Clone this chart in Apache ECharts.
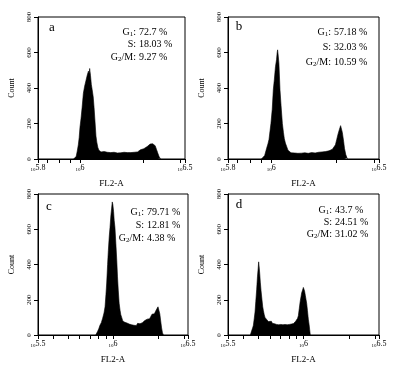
<!DOCTYPE html>
<html>
<head>
<meta charset="utf-8">
<script src="https://cdn.jsdelivr.net/npm/echarts@6/dist/echarts.min.js"></script>
<style>
  html, body { margin: 0; padding: 0; background: #fff; }
  #chart { width: 397px; height: 367px; }
</style>
</head>
<body>
<div id="chart"></div>
<script>
// histogram data: [log10(FL2-A), count]
const histA = [
  [5.970, 0], [5.976, 5], [5.982, 15], [5.987, 45], [5.992, 80], [5.996, 120], [6.000, 180],
  [6.005, 230], [6.010, 290], [6.016, 370], [6.022, 410], [6.028, 440], [6.034, 470], [6.040, 495],
  [6.044, 480], [6.046, 510], [6.050, 470], [6.054, 420], [6.058, 390], [6.063, 350], [6.067, 290],
  [6.071, 220], [6.076, 130], [6.080, 95], [6.085, 65], [6.090, 50], [6.095, 45], [6.100, 40],
  [6.108, 36], [6.115, 42], [6.122, 33], [6.130, 38], [6.138, 30], [6.146, 36], [6.154, 32],
  [6.162, 38], [6.170, 30], [6.178, 34], [6.186, 28], [6.194, 35], [6.202, 32], [6.210, 38],
  [6.218, 33], [6.226, 36], [6.234, 30], [6.242, 36], [6.250, 32], [6.258, 38], [6.266, 35],
  [6.274, 40], [6.280, 45], [6.288, 52], [6.296, 48], [6.304, 58], [6.312, 62], [6.320, 70],
  [6.328, 78], [6.334, 84], [6.340, 92], [6.346, 86], [6.352, 90], [6.358, 75], [6.364, 55],
  [6.370, 35], [6.376, 15], [6.382, 3], [6.386, 0]
];
const histB = [
  [5.955, 0], [5.962, 8], [5.970, 20], [5.979, 60], [5.985, 85], [5.990, 110], [5.995, 160],
  [5.999, 200], [6.005, 280], [6.010, 390], [6.015, 450], [6.020, 520], [6.025, 560], [6.028, 600],
  [6.030, 615], [6.033, 580], [6.036, 540], [6.041, 390], [6.046, 300], [6.052, 200], [6.057, 150],
  [6.061, 115], [6.066, 90], [6.072, 70], [6.078, 50], [6.085, 40], [6.092, 35], [6.100, 30],
  [6.108, 34], [6.116, 28], [6.124, 32], [6.132, 27], [6.140, 33], [6.148, 30], [6.156, 35],
  [6.164, 28], [6.172, 32], [6.180, 30], [6.188, 36], [6.196, 31], [6.204, 34], [6.212, 30],
  [6.220, 38], [6.228, 33], [6.236, 40], [6.244, 36], [6.252, 42], [6.260, 40], [6.268, 46],
  [6.276, 48], [6.284, 55], [6.292, 62], [6.298, 80], [6.304, 110], [6.310, 140], [6.316, 165],
  [6.322, 188], [6.326, 180], [6.330, 150], [6.336, 100], [6.340, 60], [6.346, 25], [6.352, 5],
  [6.356, 0]
];
const histC = [
  [5.885, 0], [5.891, 8], [5.897, 20], [5.905, 35], [5.913, 55], [5.922, 70], [5.931, 95],
  [5.940, 125], [5.947, 160], [5.953, 230], [5.958, 295], [5.964, 400], [5.969, 480], [5.975, 560],
  [5.980, 610], [5.986, 680], [5.991, 720], [5.995, 755], [5.999, 740], [6.004, 700], [6.008, 650],
  [6.013, 610], [6.019, 520], [6.025, 425], [6.030, 330], [6.035, 255], [6.041, 180], [6.047, 140],
  [6.052, 115], [6.058, 100], [6.065, 80], [6.072, 88], [6.079, 72], [6.086, 78], [6.093, 68],
  [6.100, 74], [6.108, 62], [6.116, 70], [6.124, 58], [6.132, 64], [6.140, 55], [6.148, 62],
  [6.156, 54], [6.164, 66], [6.172, 58], [6.180, 64], [6.188, 60], [6.196, 70], [6.204, 75],
  [6.212, 82], [6.220, 78], [6.228, 90], [6.236, 96], [6.244, 92], [6.252, 105], [6.260, 118],
  [6.268, 125], [6.276, 120], [6.284, 135], [6.292, 148], [6.300, 160], [6.306, 150], [6.312, 120],
  [6.318, 80], [6.324, 40], [6.330, 12], [6.336, 0]
];
const histD = [
  [5.648, 0], [5.652, 10], [5.657, 25], [5.663, 40], [5.668, 55], [5.674, 95], [5.679, 130],
  [5.684, 190], [5.690, 260], [5.695, 330], [5.700, 380], [5.703, 415], [5.706, 390], [5.710, 350],
  [5.714, 300], [5.719, 250], [5.725, 200], [5.730, 160], [5.734, 140], [5.740, 115], [5.745, 100],
  [5.750, 95], [5.756, 88], [5.762, 80], [5.767, 76], [5.774, 82], [5.780, 70], [5.787, 78],
  [5.794, 66], [5.801, 72], [5.808, 64], [5.815, 70], [5.822, 60], [5.829, 66], [5.836, 58],
  [5.843, 64], [5.850, 60], [5.857, 66], [5.864, 58], [5.871, 64], [5.878, 60], [5.885, 66],
  [5.892, 58], [5.899, 64], [5.906, 60], [5.913, 66], [5.920, 62], [5.927, 70], [5.934, 65],
  [5.941, 72], [5.948, 78], [5.955, 85], [5.961, 95], [5.966, 110], [5.972, 150], [5.978, 190],
  [5.984, 220], [5.988, 240], [5.994, 255], [5.999, 270], [6.003, 265], [6.007, 250], [6.012, 225],
  [6.017, 200], [6.021, 180], [6.026, 140], [6.032, 90], [6.037, 60], [6.041, 30], [6.045, 0]
];

const panelNames = ['a', 'b', 'c', 'd'];
const statsA = ['72.7 %', '18.03 %', '9.27 %'];
const statsB = ['57.18 %', '32.03 %', '10.59 %'];
const statsC = ['79.71 %', '12.81 %', '4.38 %'];
const statsD = ['43.7 %', '24.51 %', '31.02 %'];

// axis ticks (FL2-A values, log scale)
const xRangeTop = [5.8, 6.5];
const xRangeBottom = [5.5, 6.5];
const labelExpTop = [5.8, 6, 6.5];
const labelExpBottom = [5.5, 6, 6.5];
const minorTicks = [4e5, 5e5, 6e5, 7e5, 8e5, 9e5, 1e6, 2e6, 3e6];
const yTicks = [0, 200, 400, 600, 800];

const serif = '"Liberation Serif", "Times New Roman", serif';

const grids = [
  { left: 38, top: 17, width: 147, height: 142 },
  { left: 228, top: 17, width: 151, height: 142 },
  { left: 38, top: 194, width: 150, height: 141 },
  { left: 228, top: 194, width: 151, height: 141 }
];
const hists = [histA, histB, histC, histD];
const stats = [statsA, statsB, statsC, statsD];

const chart = echarts.init(document.getElementById('chart'));

function xAxisFor(i) {
  const range = i < 2 ? xRangeTop : xRangeBottom;
  const labels = i < 2 ? labelExpTop : labelExpBottom;
  const ticks = minorTicks.map(v => Math.log10(v))
    .filter(v => v >= range[0] && v <= range[1])
    .concat(labels);
  return {
    gridIndex: i,
    type: 'value',
    min: range[0],
    max: range[1],
    name: 'FL2-A',
    nameLocation: 'middle',
    nameGap: 20,
    nameTextStyle: { fontFamily: serif, fontSize: 9, color: '#000' },
    axisLine: { show: true, lineStyle: { color: '#000', width: 1 } },
    axisTick: { show: true, length: 4, customValues: ticks, lineStyle: { color: '#000' } },
    axisLabel: {
      customValues: labels,
      margin: 5,
      formatter: v => '{b|10}{e|' + v + '}',
      rich: {
        b: { fontFamily: serif, fontSize: 5, color: '#000', verticalAlign: 'bottom', lineHeight: 8 },
        e: { fontFamily: serif, fontSize: 8, color: '#000', verticalAlign: 'top', lineHeight: 8 }
      }
    },
    splitLine: { show: false }
  };
}

function yAxisFor(i) {
  return {
    gridIndex: i,
    type: 'value',
    min: yTicks[0],
    max: yTicks[yTicks.length - 1],
    interval: 200,
    name: 'Count',
    nameLocation: 'middle',
    nameGap: 22,
    nameTextStyle: { fontFamily: serif, fontSize: 8, color: '#000' },
    axisLine: { show: true, lineStyle: { color: '#000', width: 1 } },
    axisTick: { show: true, length: 4, lineStyle: { color: '#000' } },
    axisLabel: { rotate: 90, margin: 5, fontFamily: serif, fontSize: 7, color: '#000' },
    splitLine: { show: false }
  };
}

// positions of the annotation blocks
const letterPos = [[52, 28], [239, 27], [49, 207], [239, 205]];
const colonX = [136, 331, 144, 332];
const lineY = [[32, 44.5, 57], [32, 47, 62], [212, 225, 238], [210, 222, 234]];
const labelRich = {
  n: { fontFamily: serif, fontSize: 10, color: '#000' },
  s: { fontFamily: serif, fontSize: 7, color: '#000', verticalAlign: 'bottom', padding: [4, 0, 0, 0] }
};
const rowLabels = ['{n|G}{s|1}{n|:}', '{n|S:}', '{n|G}{s|2}{n|/M:}'];

const graphics = [];
panelNames.forEach((name, i) => {
  graphics.push({
    type: 'text',
    x: letterPos[i][0], y: letterPos[i][1],
    style: { text: name, font: '13px ' + serif, fill: '#000', textAlign: 'center', textVerticalAlign: 'middle' }
  });
  rowLabels.forEach((lab, r) => {
    graphics.push({
      type: 'text',
      x: colonX[i], y: lineY[i][r],
      style: { text: lab, rich: labelRich, textAlign: 'right', textVerticalAlign: 'middle' }
    });
    graphics.push({
      type: 'text',
      x: colonX[i] + 3, y: lineY[i][r],
      style: { text: stats[i][r], font: '10px ' + serif, fill: '#000', textAlign: 'left', textVerticalAlign: 'middle' }
    });
  });
});

chart.setOption({
  animation: false,
  backgroundColor: '#fff',
  grid: grids.map(g => Object.assign({ show: true, borderColor: '#000', borderWidth: 1, backgroundColor: 'transparent' }, g)),
  xAxis: [0, 1, 2, 3].map(xAxisFor),
  yAxis: [0, 1, 2, 3].map(yAxisFor),
  series: hists.map((h, i) => ({
    type: 'line',
    xAxisIndex: i,
    yAxisIndex: i,
    data: h,
    symbol: 'none',
    lineStyle: { color: '#000', width: 0.6 },
    areaStyle: { color: '#000', opacity: 1 }
  })),
  graphic: graphics
});
</script>
</body>
</html>
